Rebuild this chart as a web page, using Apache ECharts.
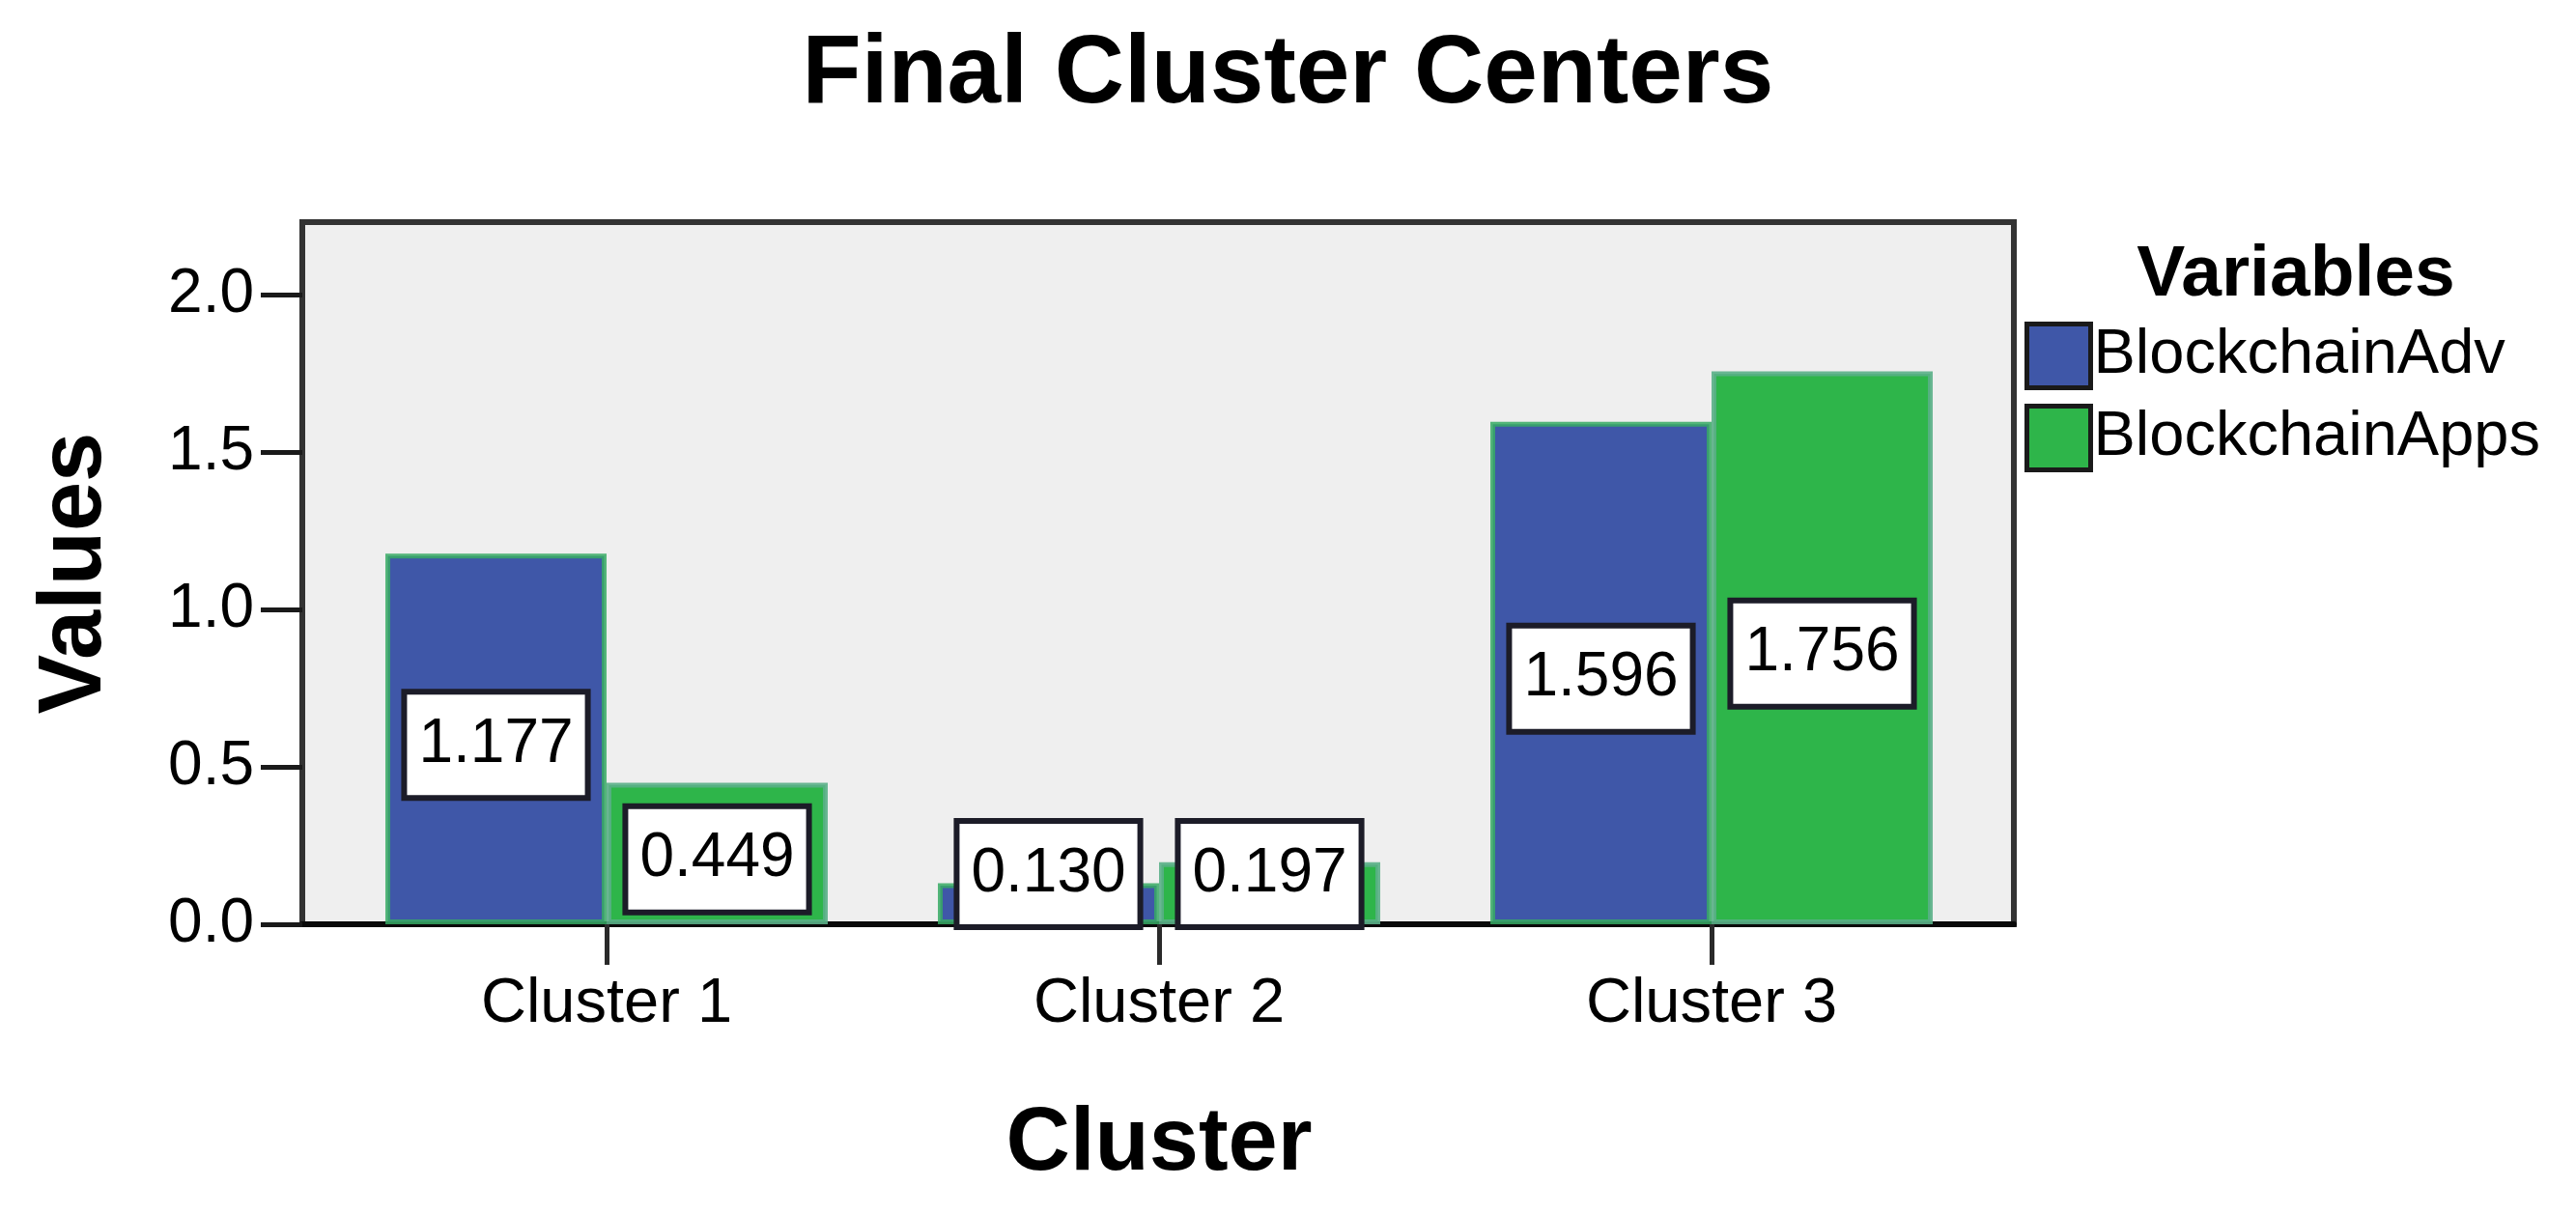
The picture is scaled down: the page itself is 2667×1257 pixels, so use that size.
<!DOCTYPE html>
<html>
<head>
<meta charset="utf-8">
<script src="https://cdn.jsdelivr.net/npm/echarts@6/dist/echarts.min.js"></script>
<style>
html,body{margin:0;padding:0;background:#fff;}
#chart{width:2667px;height:1257px;}
</style>
</head>
<body>
<div id="chart"></div>
<script>
const categories = ['Cluster 1', 'Cluster 2', 'Cluster 3'];
const seriesNames = ['BlockchainAdv', 'BlockchainApps'];
const advValues = [1.177, 0.130, 1.596];
const appsValues = [0.449, 0.197, 1.756];
const yTicks = [0, 0.5, 1.0, 1.5, 2.0];

const FONT = '"Liberation Sans", Arial, sans-serif';
const Y_MAX = 2.23;

function makeData(vals) {
  return vals.map(v => v < 0.3
    ? { value: v, label: { position: 'insideBottom', distance: 0, offset: [0, 0] } }
    : { value: v });
}

const labelStyle = {
  show: true,
  position: 'inside',
  offset: [0, 6],
  formatter: p => Number(p.value).toFixed(3),
  fontFamily: FONT,
  fontSize: 64,
  lineHeight: 64,
  color: '#000',
  backgroundColor: '#ffffff',
  borderColor: '#1c1c28',
  borderWidth: 6,
  padding: [20, 12, 20, 12]
};

const chart = echarts.init(document.getElementById('chart'), null, { renderer: 'canvas' });
chart.setOption({
  animation: false,
  backgroundColor: '#ffffff',
  title: [
    {
      text: 'Final Cluster Centers',
      left: 'center',
      top: 23,
      textStyle: { fontFamily: FONT, fontSize: 100, fontWeight: 'bold', color: '#000', lineHeight: 100 }
    },
    {
      text: 'Variables',
      left: 2372,
      textAlign: 'center',
      top: 243,
      textStyle: { fontFamily: FONT, fontSize: 75, fontWeight: 'bold', color: '#000', lineHeight: 75 }
    }
  ],
  legend: {
    orient: 'vertical',
    left: 2096,
    top: 333,
    padding: 0,
    itemWidth: 66,
    itemHeight: 66,
    itemGap: 14,
    icon: 'rect',
    itemStyle: { borderColor: '#1a1a1a', borderWidth: 5 },
    textStyle: { fontFamily: FONT, fontSize: 65, color: '#000', padding: [0, 0, 0, -2] },
    data: seriesNames
  },
  grid: [
    {
      left: 313, top: 230, width: 1772, height: 727,
      show: true, backgroundColor: '#efefef', borderColor: '#333333', borderWidth: 6
    },
    {
      left: 342, top: 230, width: 1716, height: 727
    }
  ],
  xAxis: [
    {
      gridIndex: 0, type: 'value', min: 0, max: 1,
      axisLine: { show: true, lineStyle: { color: '#0a0a0a', width: 6 } },
      axisTick: { show: false }, axisLabel: { show: false }, splitLine: { show: false }
    },
    {
      gridIndex: 1, type: 'category', data: categories,
      axisLine: { show: false },
      axisTick: { show: true, alignWithLabel: true, length: 42, lineStyle: { color: '#2a2a2a', width: 5 } },
      axisLabel: { fontFamily: FONT, fontSize: 65, color: '#000', margin: 50, lineHeight: 66 },
      name: 'Cluster', nameLocation: 'middle', nameGap: 183,
      nameTextStyle: { fontFamily: FONT, fontSize: 92, fontWeight: 'bold', color: '#000', lineHeight: 92 }
    }
  ],
  yAxis: [
    {
      gridIndex: 0, type: 'value', min: 0, max: Y_MAX, interval: 0.5,
      axisLine: { show: false },
      axisTick: { show: true, length: 43, customValues: yTicks, lineStyle: { color: '#1a1a1a', width: 5 } },
      axisLabel: { customValues: yTicks, fontFamily: FONT, fontSize: 64, color: '#000', margin: 50, formatter: v => Number(v).toFixed(1) },
      splitLine: { show: false },
      name: 'Values', nameLocation: 'middle', nameGap: 188,
      nameTextStyle: { fontFamily: FONT, fontSize: 92, fontWeight: 'bold', color: '#000', lineHeight: 92 }
    },
    {
      gridIndex: 1, type: 'value', min: 0, max: Y_MAX, show: false
    }
  ],
  series: [
    {
      name: seriesNames[0], type: 'bar', xAxisIndex: 1, yAxisIndex: 1,
      barWidth: 229, barGap: '0%',
      itemStyle: { color: '#3f57a8', borderColor: 'rgba(55,170,100,0.85)', borderWidth: 5 },
      label: labelStyle,
      data: makeData(advValues)
    },
    {
      name: seriesNames[1], type: 'bar', xAxisIndex: 1, yAxisIndex: 1,
      barWidth: 229, barGap: '0%',
      itemStyle: { color: '#2eb54a', borderColor: 'rgba(90,175,135,0.9)', borderWidth: 5 },
      label: labelStyle,
      data: makeData(appsValues)
    }
  ]
});
</script>
</body>
</html>
